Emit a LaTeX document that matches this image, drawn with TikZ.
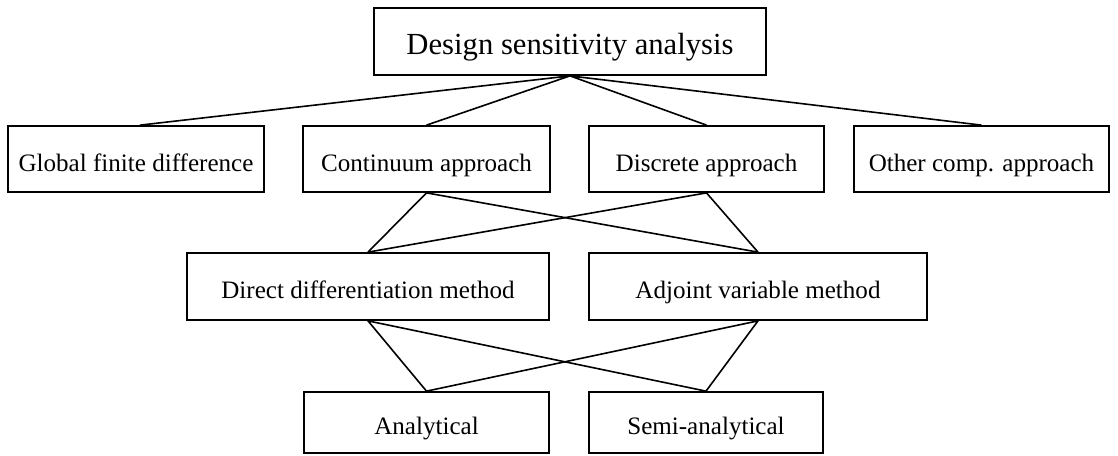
\documentclass[tikz,border=0pt]{standalone}
\usepackage{fontspec}
\setmainfont{Liberation Serif}
\begin{document}
\begin{tikzpicture}[x=0.75pt,y=-0.75pt,
  box/.style={draw, line width=1.3pt, inner sep=0pt, align=center,
    text height=18pt, text depth=0pt,
    font=\fontsize{18.8}{22}\selectfont},
  link/.style={line width=1.2pt}]
\useasboundingbox (0,0) rectangle (1118,455);
\node[box, minimum width=294pt, minimum height=50.25pt,
  font=\fontsize{23}{27}\selectfont, text height=19pt] (top) at (570,41.5) {Design sensitivity analysis};
\node[box, minimum width=192pt, minimum height=49.5pt] (glob) at (136,159) {Global finite difference};
\node[box, minimum width=185.25pt, minimum height=49.5pt] (cont) at (426.5,159) {Continuum approach};
\node[box, minimum width=176.25pt, minimum height=49.5pt] (disc) at (706.5,159) {Discrete approach};
\node[box, minimum width=191.25pt, minimum height=49.5pt] (other) at (981.5,159) {Other comp. approach};
\node[box, minimum width=271.5pt, minimum height=50.25pt] (direct) at (368,286.5) {Direct differentiation method};
\node[box, minimum width=253.5pt, minimum height=50.25pt] (adj) at (758,286.5) {Adjoint variable method};
\node[box, minimum width=183.75pt, minimum height=45.75pt] (anal) at (426.5,422.5) {Analytical};
\node[box, minimum width=175.5pt, minimum height=45.75pt] (semi) at (706,422.5) {Semi-analytical};
\draw[link] ([xshift=3pt]glob.north) -- (top.south) -- (cont.north);
\draw[link] (disc.north) -- (top.south) -- (other.north);
\draw[link] (direct.north) -- (cont.south) -- (adj.north);
\draw[link] (direct.north) -- (disc.south) -- (adj.north);
\draw[link] (anal.north) -- (direct.south) -- (semi.north);
\draw[link] (anal.north) -- (adj.south) -- (semi.north);
\end{tikzpicture}
\end{document}
